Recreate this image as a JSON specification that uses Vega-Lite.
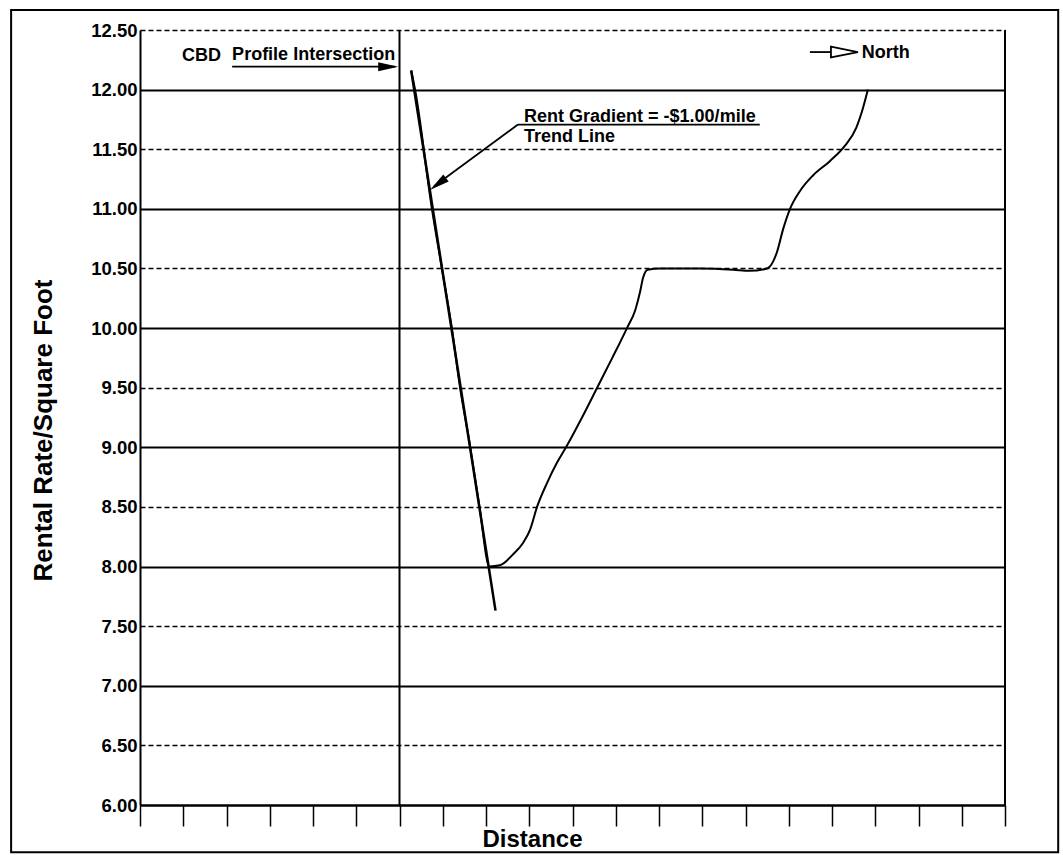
{
  "$schema": "https://vega.github.io/schema/vega-lite/v6.json",
  "width": 865,
  "height": 775,
  "autosize": {"type": "none"},
  "padding": {"left": 140, "top": 30, "right": 58, "bottom": 50},
  "background": "white",
  "config": {"view": {"stroke": null}, "font": "Liberation Sans"},
  "datasets": {
    "curve": [
      {"distance": 6.27, "rent": 12.16},
      {"distance": 6.36, "rent": 12.0},
      {"distance": 6.75, "rent": 11.0},
      {"distance": 6.98, "rent": 10.5},
      {"distance": 7.21, "rent": 10.0},
      {"distance": 7.40, "rent": 9.5},
      {"distance": 7.61, "rent": 9.06},
      {"distance": 7.85, "rent": 8.5},
      {"distance": 8.08, "rent": 8.0},
      {"distance": 8.32, "rent": 8.01},
      {"distance": 8.62, "rent": 8.1},
      {"distance": 8.86, "rent": 8.2},
      {"distance": 9.02, "rent": 8.31},
      {"distance": 9.18, "rent": 8.5},
      {"distance": 9.41, "rent": 8.7},
      {"distance": 9.64, "rent": 8.87},
      {"distance": 9.85, "rent": 9.0},
      {"distance": 10.22, "rent": 9.25},
      {"distance": 10.57, "rent": 9.5},
      {"distance": 10.92, "rent": 9.75},
      {"distance": 11.26, "rent": 10.0},
      {"distance": 11.45, "rent": 10.15},
      {"distance": 11.56, "rent": 10.3},
      {"distance": 11.63, "rent": 10.42},
      {"distance": 11.74, "rent": 10.49},
      {"distance": 12.02, "rent": 10.5},
      {"distance": 12.95, "rent": 10.5},
      {"distance": 13.71, "rent": 10.49},
      {"distance": 14.10, "rent": 10.48},
      {"distance": 14.50, "rent": 10.5},
      {"distance": 14.73, "rent": 10.64},
      {"distance": 14.87, "rent": 10.83},
      {"distance": 15.03, "rent": 11.0},
      {"distance": 15.26, "rent": 11.15},
      {"distance": 15.56, "rent": 11.28},
      {"distance": 15.95, "rent": 11.4},
      {"distance": 16.30, "rent": 11.53},
      {"distance": 16.56, "rent": 11.68},
      {"distance": 16.72, "rent": 11.85},
      {"distance": 16.83, "rent": 12.0}
    ],
    "trend": [
      {"distance": 6.27, "rent": 12.16},
      {"distance": 8.22, "rent": 7.63}
    ],
    "verticals": [{"distance": 6}, {"distance": 20}],
    "segments": [
      {"x1": 2.13, "y1": 12.192, "x2": 5.9, "y2": 12.192},
      {"x1": 8.74, "y1": 11.707, "x2": 14.33, "y2": 11.707},
      {"x1": 8.74, "y1": 11.707, "x2": 6.8, "y2": 11.19},
      {"x1": 15.49, "y1": 12.315, "x2": 16.2, "y2": 12.315}
    ],
    "notes": [
      {"text": "CBD", "distance": 0.97, "rent": 12.236},
      {"text": "Profile Intersection", "distance": 2.13, "rent": 12.248},
      {"text": "Rent Gradient = -$1.00/mile", "distance": 8.88, "rent": 11.731},
      {"text": "Trend Line", "distance": 8.88, "rent": 11.563},
      {"text": "North", "distance": 16.69, "rent": 12.261}
    ],
    "headRight": [{"distance": 5.97, "rent": 12.192}],
    "headTrend": [{"distance": 6.705, "rent": 11.158}],
    "headNorth": [{"distance": 16.6, "rent": 12.315}]
  },
  "layer": [
    {
      "data": {"name": "curve"},
      "mark": {"type": "line", "color": "black", "strokeWidth": 2, "interpolate": "monotone"},
      "encoding": {
        "x": {
          "field": "distance", "type": "quantitative",
          "scale": {"domain": [0, 20], "nice": false, "zero": false},
          "axis": {
            "values": [0,1,2,3,4,5,6,7,8,9,10,11,12,13,14,15,16,17,18,19,20],
            "labels": false, "grid": false,
            "tickSize": 21, "tickColor": "black", "tickWidth": 1.5,
            "domainColor": "black", "domainWidth": 2,
            "title": "Distance", "titleFontSize": 24, "titleFontWeight": "bold",
            "titleColor": "black", "titlePadding": 1, "titleX": 392
          }
        },
        "y": {
          "field": "rent", "type": "quantitative",
          "scale": {"domain": [6, 12.5], "nice": false, "zero": false},
          "axis": {
            "values": [6, 6.5, 7, 7.5, 8, 8.5, 9, 9.5, 10, 10.5, 11, 11.5, 12, 12.5],
            "format": ".2f", "ticks": false, "labelFlush": false,
            "labelFontSize": 18.5, "labelFontWeight": "bold", "labelColor": "black", "labelPadding": 3,
            "domainColor": "black", "domainWidth": 2,
            "grid": true, "gridColor": "black", "gridOpacity": 1,
            "gridWidth": {"condition": {"test": "datum.value % 1 !== 0", "value": 1.3}, "value": 2},
            "gridDash": {"condition": {"test": "datum.value % 1 !== 0", "value": [5, 3]}, "value": []},
            "title": "Rental Rate/Square Foot", "titleFontSize": 26, "titleFontWeight": "bold",
            "titleColor": "black", "titlePadding": 34, "titleY": 400
          }
        }
      }
    },
    {
      "data": {"name": "trend"},
      "mark": {"type": "line", "color": "black", "strokeWidth": 2.5},
      "encoding": {
        "x": {"field": "distance", "type": "quantitative"},
        "y": {"field": "rent", "type": "quantitative"}
      }
    },
    {
      "data": {"name": "verticals"},
      "mark": {"type": "rule", "color": "black", "strokeWidth": 2},
      "encoding": {
        "x": {"field": "distance", "type": "quantitative"}
      }
    },
    {
      "data": {"name": "segments"},
      "mark": {"type": "rule", "color": "black", "strokeWidth": 1.8},
      "encoding": {
        "x": {"field": "x1", "type": "quantitative"},
        "x2": {"field": "x2"},
        "y": {"field": "y1", "type": "quantitative"},
        "y2": {"field": "y2"}
      }
    },
    {
      "data": {"name": "headRight"},
      "mark": {"type": "point", "shape": "M-2,-0.45L0,0L-2,0.45Z", "size": 400, "filled": true, "color": "black", "opacity": 1},
      "encoding": {
        "x": {"field": "distance", "type": "quantitative"},
        "y": {"field": "rent", "type": "quantitative"}
      }
    },
    {
      "data": {"name": "headTrend"},
      "mark": {"type": "point", "shape": "M-2,-0.45L0,0L-2,0.45Z", "size": 400, "filled": true, "color": "black", "opacity": 1, "angle": 143},
      "encoding": {
        "x": {"field": "distance", "type": "quantitative"},
        "y": {"field": "rent", "type": "quantitative"}
      }
    },
    {
      "data": {"name": "headNorth"},
      "mark": {"type": "point", "shape": "M-2,-0.4L0,0L-2,0.4Z", "size": 729, "filled": true, "fill": "white", "stroke": "black", "strokeWidth": 1.8, "opacity": 1},
      "encoding": {
        "x": {"field": "distance", "type": "quantitative"},
        "y": {"field": "rent", "type": "quantitative"}
      }
    },
    {
      "data": {"name": "notes"},
      "mark": {"type": "text", "align": "left", "baseline": "alphabetic", "fontSize": 18, "fontWeight": "bold", "color": "black"},
      "encoding": {
        "x": {"field": "distance", "type": "quantitative"},
        "y": {"field": "rent", "type": "quantitative"},
        "text": {"field": "text"}
      }
    },
    {
      "data": {"values": [{}]},
      "mark": {"type": "rect", "fill": null, "stroke": "black", "strokeWidth": 2, "clip": false},
      "encoding": {
        "x": {"datum": -2.98, "type": "quantitative"},
        "x2": {"datum": 21.23},
        "y": {"datum": 12.668, "type": "quantitative"},
        "y2": {"datum": 5.604}
      }
    }
  ]
}
